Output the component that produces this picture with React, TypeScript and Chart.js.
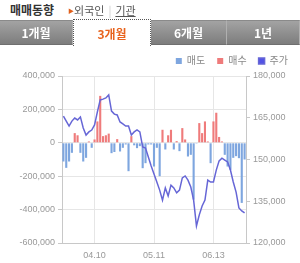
import React, { useEffect, useRef } from "react";
import { Chart, registerables } from "chart.js";

Chart.register(...registerables);

const dates = [
  "03.24", "03.27", "03.28", "03.29", "03.30", "03.31", "04.03", "04.04", "04.05", "04.06",
  "04.07", "04.10", "04.11", "04.12", "04.13", "04.14", "04.17", "04.18", "04.19", "04.20",
  "04.21", "04.24", "04.25", "04.26", "04.27", "04.28", "05.01", "05.02", "05.04", "05.08",
  "05.09", "05.10", "05.11", "05.12", "05.15", "05.16", "05.17", "05.18", "05.19", "05.22",
  "05.23", "05.24", "05.25", "05.26", "05.29", "05.30", "05.31", "06.01", "06.02", "06.07",
  "06.08", "06.09", "06.12", "06.13", "06.14", "06.15", "06.16", "06.19", "06.20", "06.21",
  "06.22", "06.23", "06.26", "06.27", "06.28",
];

const shownDates = ["04.10", "05.11", "06.13"];

const sellValues = [
  -112000, -150000, -112000, -60000, 0, 0, -60000, -112000, -90000, 0,
  -30000, 0, 0, 0, 0, 0, 0, -62000, -55000, 0,
  -52000, -30000, -10000, -170000, 0, -15000, -32000, -20000, -152000, -122000,
  -10000, -10000, -142000, -30000, -200000, 0, -40000, 0, 0, -40000,
  0, -50000, 0, 0, -82000, -72000, -340000, -5000, 0, 0,
  0, 0, -122000, 0, 0, 0, 0, -72000, -142000, -162000,
  -90000, -80000, -92000, -360000, -100000,
];

const buyValues = [
  0, 0, 0, 0, 58000, 45000, 0, 0, 0, 8000,
  0, 20000, 128000, 281000, 40000, 45000, 55000, 0, 0, 22000,
  0, 0, 0, 0, 40000, 0, 0, 0, 0, 0,
  0, 0, 0, 0, 0, 78000, 0, 45000, 78000, 0,
  10000, 0, 88000, 20000, 0, 0, 0, 0, 118000, 58000,
  128000, 8000, 0, 128000, 180000, 35000, 8000, 0, 0, 0,
  0, 0, 0, 0, 0,
];

const priceValues = [
  165600, 163800, 162000, 163800, 164900, 164200, 165300, 161300, 158800, 159900,
  160600, 162400, 167100, 171400, 171700, 172100, 173200, 167400, 166300, 166000,
  163500, 162800, 162000, 162000, 158800, 159900, 160600, 159900, 154500, 154100,
  150900, 147700, 144800, 141900, 139000, 135400, 139800, 136900, 140800, 139800,
  138000, 139000, 143400, 144100, 142600, 140100, 135400, 126100, 130100, 133300,
  135400, 142600, 141900, 141900, 146200, 149500, 150500, 149800, 149100, 146200,
  141900, 138300, 132600, 131500, 130800,
];

const seriesNames = ["매도", "매수", "주가"];
const tabLabels = ["1개월", "3개월", "6개월", "1년"];

const FONT = "'Liberation Sans', 'Noto Sans CJK KR', sans-serif";

function TradeChart() {
  const ref = useRef<HTMLCanvasElement | null>(null);
  useEffect(() => {
    if (!ref.current) return;
    const chart = new Chart(ref.current, {
      type: "bar",
      data: {
        labels: dates,
        datasets: [
          {
            type: "bar",
            label: seriesNames[0],
            data: sellValues,
            backgroundColor: "#7ea6df",
            yAxisID: "y",
            grouped: false,
            barPercentage: 0.75,
            categoryPercentage: 1,
            order: 1,
          } as any,
          {
            type: "bar",
            label: seriesNames[1],
            data: buyValues,
            backgroundColor: "#ef7b7b",
            yAxisID: "y",
            grouped: false,
            barPercentage: 0.75,
            categoryPercentage: 1,
            order: 1,
          } as any,
          {
            type: "line",
            label: seriesNames[2],
            data: priceValues,
            borderColor: "#6666d6",
            backgroundColor: "#5252e6",
            borderWidth: 1.5,
            pointRadius: 0,
            tension: 0,
            yAxisID: "y1",
            order: 0,
          } as any,
        ],
      },
      options: {
        animation: false,
        responsive: true,
        maintainAspectRatio: false,
        layout: { padding: 0 },
        font: { family: FONT },
        plugins: {
          tooltip: { enabled: false },
          legend: {
            position: "top",
            align: "end",
            labels: {
              boxWidth: 6,
              boxHeight: 6,
              padding: 12,
              color: "#888",
              font: { size: 10, family: FONT },
              sort: (a: any, b: any) => a.datasetIndex - b.datasetIndex,
            },
          },
        },
        scales: {
          x: {
            offset: true,
            afterFit: (s: any) => {
              s.height = 20;
            },
            grid: {
              offset: false,
              color: (c: any) =>
                shownDates.includes(dates[c.index]) ? "#e6e6e6" : "rgba(0,0,0,0)",
              tickLength: 4,
              tickColor: "rgba(0,0,0,0)",
            },
            border: { color: "#c8c8c8" },
            ticks: {
              autoSkip: false,
              maxRotation: 0,
              minRotation: 0,
              padding: 3,
              color: "#999",
              font: { size: 9, family: FONT },
              callback: (_v: any, i: number) =>
                shownDates.includes(dates[i]) ? dates[i] : "",
            },
          },
          y: {
            position: "left",
            min: -600000,
            max: 400000,
            afterFit: (s: any) => {
              s.width = 62;
            },
            grid: { color: "#e6e6e6", tickLength: 4, tickColor: "#c8c8c8" },
            border: { color: "#c8c8c8" },
            ticks: {
              stepSize: 200000,
              padding: 3,
              color: "#999",
              font: { size: 9, family: FONT },
              callback: (v: any) => Number(v).toLocaleString("en-US"),
            },
          },
          y1: {
            position: "right",
            min: 120000,
            max: 180000,
            afterFit: (s: any) => {
              s.width = 54;
            },
            grid: { drawOnChartArea: false, tickLength: 4, tickColor: "#c8c8c8" },
            border: { color: "#c8c8c8" },
            ticks: {
              stepSize: 15000,
              padding: 3,
              color: "#999",
              font: { size: 9, family: FONT },
              callback: (v: any) => Number(v).toLocaleString("en-US"),
            },
          },
        },
      } as any,
    });
    return () => chart.destroy();
  }, []);
  return <canvas ref={ref} />;
}

export default function App() {
  const tabBase: React.CSSProperties = {
    position: "absolute",
    top: 20,
    height: 25,
    boxSizing: "border-box",
    display: "flex",
    alignItems: "center",
    justifyContent: "center",
    fontSize: 12,
    fontWeight: 700,
    color: "#fff",
    background: "linear-gradient(#a3a3a3, #7d7d7d)",
    borderTop: "1px solid #8a8a8a",
    borderBottom: "1px solid #6f6f6f",
    borderRight: "1px solid #b0b0b0",
  };
  const tabPos = [
    [0, 73],
    [73, 78],
    [151, 76],
    [227, 73],
  ];
  return (
    <div
      style={{
        position: "absolute",
        left: 0,
        top: 0,
        width: 300,
        height: 263,
        background: "#fff",
        overflow: "hidden",
        fontFamily: "'Noto Sans CJK KR', sans-serif",
      }}
    >
      <div style={{ position: "absolute", left: 0, top: 44, width: 300, height: 219 }}>
        <TradeChart />
      </div>
      <div
        style={{
          position: "absolute",
          left: 10,
          top: 2,
          fontSize: 12,
          lineHeight: "16px",
          fontWeight: 700,
          color: "#333",
        }}
      >
        매매동향
      </div>
      <div
        style={{
          position: "absolute",
          left: 68,
          top: 2,
          fontSize: 11,
          lineHeight: "16px",
          color: "#555",
          whiteSpace: "nowrap",
        }}
      >
        <span style={{ color: "#e0601c", fontSize: 6, verticalAlign: "2px" }}>▶</span>
        외국인
        <span style={{ color: "#ccc", margin: "0 4px" }}>|</span>
        <span style={{ textDecoration: "underline" }}>기관</span>
      </div>
      {tabLabels.map((t, i) =>
        i === 1 ? (
          <div
            key={t}
            style={{
              position: "absolute",
              left: tabPos[i][0],
              top: 19,
              width: tabPos[i][1],
              height: 27,
              boxSizing: "border-box",
              border: "1px dotted #555",
              borderBottom: "none",
              background: "#fff",
              color: "#e8641e",
              fontSize: 12,
              fontWeight: 700,
              display: "flex",
              alignItems: "center",
              justifyContent: "center",
              zIndex: 2,
            }}
          >
            {t}
          </div>
        ) : (
          <div key={t} style={{ ...tabBase, left: tabPos[i][0], width: tabPos[i][1] }}>
            {t}
          </div>
        )
      )}
    </div>
  );
}
